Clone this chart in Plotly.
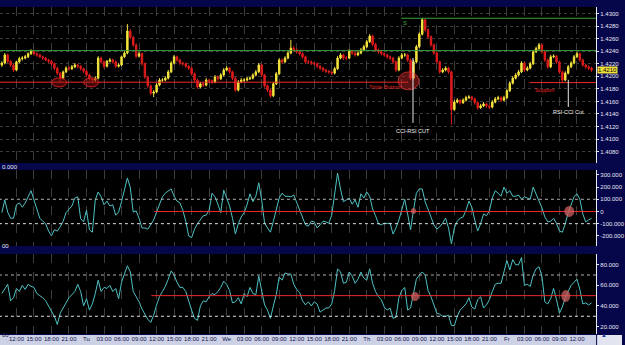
import pandas as pd
import plotly.graph_objects as go

# ---------------- data ----------------
BAR_START = "2010-03-01 09:30"   # Monday
BAR_FREQ = "30min"

OPEN = [1.4218,1.4221,1.4234,1.4224,1.4218,1.4210,1.4223,1.4228,1.4229,1.4231,
        1.4236,1.4240,1.4236,1.4234,1.4231,1.4229,1.4226,1.4224,1.4220,1.4213,
        1.4205,1.4197,1.4207,1.4213,1.4212,1.4215,1.4218,1.4216,1.4212,1.4208,
        1.4202,1.4196,1.4194,1.4197,1.4229,1.4223,1.4216,1.4224,1.4226,1.4223,
        1.4216,1.4218,1.4231,1.4237,1.4272,1.4262,1.4250,1.4232,1.4236,1.4220,
        1.4199,1.4185,1.4173,1.4175,1.4186,1.4194,1.4194,1.4197,1.4207,1.4221,
        1.4231,1.4226,1.4221,1.4220,1.4216,1.4213,1.4204,1.4194,1.4183,1.4188,
        1.4186,1.4194,1.4193,1.4191,1.4199,1.4196,1.4202,1.4210,1.4213,1.4207,
        1.4197,1.4178,1.4191,1.4194,1.4194,1.4196,1.4197,1.4202,1.4207,1.4218,
        1.4202,1.4185,1.4178,1.4169,1.4188,1.4204,1.4226,1.4223,1.4229,1.4237,
        1.4245,1.4242,1.4239,1.4236,1.4231,1.4223,1.4223,1.4221,1.4220,1.4216,
        1.4213,1.4210,1.4208,1.4207,1.4205,1.4212,1.4229,1.4234,1.4229,1.4229,
        1.4240,1.4237,1.4234,1.4237,1.4242,1.4247,1.4255,1.4264,1.4251,1.4242,
        1.4239,1.4236,1.4234,1.4231,1.4229,1.4223,1.4210,1.4229,1.4234,1.4234,
        1.4226,1.4197,1.4223,1.4247,1.4267,1.4290,1.4274,1.4263,1.4250,1.4237,
        1.4223,1.4207,1.4210,1.4213,1.4207,1.4147,1.4159,1.4162,1.4158,1.4162,
        1.4166,1.4167,1.4164,1.4158,1.4150,1.4153,1.4156,1.4153,1.4151,1.4159,
        1.4164,1.4166,1.4162,1.4166,1.4177,1.4189,1.4197,1.4202,1.4207,1.4221,
        1.4210,1.4213,1.4220,1.4239,1.4244,1.4250,1.4239,1.4226,1.4215,1.4231,
        1.4232,1.4223,1.4207,1.4194,1.4205,1.4215,1.4221,1.4231,1.4236,1.4226,
        1.4218,1.4215,1.4213]

HIGH = [1.4224,1.4237,1.4236,1.4226,1.4220,1.4225,1.4231,1.4232,1.4234,1.4238,
        1.4243,1.4242,1.4238,1.4236,1.4233,1.4231,1.4228,1.4226,1.4222,1.4215,
        1.4207,1.4209,1.4216,1.4216,1.4218,1.4221,1.4220,1.4218,1.4214,1.4210,
        1.4204,1.4198,1.4200,1.4232,1.4231,1.4225,1.4226,1.4229,1.4228,1.4225,
        1.4221,1.4233,1.4240,1.4283,1.4275,1.4264,1.4252,1.4239,1.4238,1.4222,
        1.4201,1.4187,1.4178,1.4189,1.4197,1.4197,1.4200,1.4210,1.4224,1.4234,
        1.4233,1.4228,1.4223,1.4222,1.4218,1.4215,1.4206,1.4196,1.4191,1.4190,
        1.4197,1.4196,1.4195,1.4202,1.4201,1.4205,1.4213,1.4216,1.4215,1.4209,
        1.4199,1.4194,1.4197,1.4197,1.4199,1.4200,1.4205,1.4210,1.4221,1.4220,
        1.4204,1.4187,1.4180,1.4191,1.4207,1.4229,1.4228,1.4232,1.4240,1.4258,
        1.4248,1.4244,1.4241,1.4238,1.4233,1.4226,1.4225,1.4223,1.4222,1.4218,
        1.4215,1.4212,1.4210,1.4209,1.4215,1.4232,1.4237,1.4236,1.4232,1.4243,
        1.4242,1.4239,1.4240,1.4245,1.4250,1.4258,1.4267,1.4266,1.4253,1.4244,
        1.4241,1.4238,1.4236,1.4233,1.4231,1.4225,1.4232,1.4237,1.4237,1.4236,
        1.4228,1.4226,1.4250,1.4270,1.4293,1.4292,1.4276,1.4265,1.4252,1.4239,
        1.4225,1.4213,1.4216,1.4215,1.4209,1.4162,1.4165,1.4164,1.4165,1.4169,
        1.4170,1.4169,1.4166,1.4160,1.4156,1.4159,1.4158,1.4155,1.4162,1.4167,
        1.4169,1.4168,1.4169,1.4180,1.4192,1.4200,1.4205,1.4210,1.4224,1.4223,
        1.4216,1.4223,1.4242,1.4247,1.4253,1.4252,1.4241,1.4228,1.4234,1.4235,
        1.4234,1.4225,1.4209,1.4208,1.4218,1.4224,1.4234,1.4239,1.4238,1.4228,
        1.4220,1.4217,1.4215]

LOW = [1.4215,1.4219,1.4221,1.4215,1.4207,1.4208,1.4221,1.4225,1.4227,1.4229,
       1.4234,1.4233,1.4231,1.4229,1.4226,1.4224,1.4221,1.4217,1.4210,1.4202,
       1.4191,1.4195,1.4205,1.4209,1.4210,1.4213,1.4213,1.4209,1.4205,1.4199,
       1.4193,1.4191,1.4192,1.4195,1.4220,1.4213,1.4214,1.4222,1.4220,1.4213,
       1.4214,1.4216,1.4229,1.4235,1.4259,1.4247,1.4229,1.4230,1.4217,1.4196,
       1.4182,1.4170,1.4167,1.4173,1.4184,1.4191,1.4192,1.4195,1.4205,1.4219,
       1.4223,1.4218,1.4217,1.4213,1.4210,1.4201,1.4191,1.4180,1.4181,1.4183,
       1.4184,1.4190,1.4188,1.4189,1.4193,1.4194,1.4200,1.4208,1.4204,1.4194,
       1.4175,1.4176,1.4189,1.4191,1.4192,1.4194,1.4195,1.4200,1.4205,1.4199,
       1.4182,1.4175,1.4166,1.4167,1.4186,1.4202,1.4220,1.4221,1.4227,1.4235,
       1.4239,1.4236,1.4233,1.4228,1.4220,1.4220,1.4218,1.4217,1.4213,1.4210,
       1.4207,1.4205,1.4204,1.4202,1.4203,1.4210,1.4227,1.4226,1.4226,1.4227,
       1.4234,1.4231,1.4232,1.4235,1.4240,1.4245,1.4253,1.4248,1.4239,1.4236,
       1.4233,1.4231,1.4228,1.4226,1.4220,1.4207,1.4208,1.4227,1.4231,1.4223,
       1.4194,1.4195,1.4221,1.4245,1.4265,1.4271,1.4260,1.4247,1.4234,1.4220,
       1.4204,1.4205,1.4208,1.4204,1.4123,1.4145,1.4157,1.4155,1.4156,1.4160,
       1.4164,1.4161,1.4155,1.4147,1.4148,1.4151,1.4150,1.4148,1.4149,1.4157,
       1.4162,1.4159,1.4160,1.4164,1.4175,1.4187,1.4195,1.4200,1.4205,1.4207,
       1.4208,1.4211,1.4218,1.4237,1.4242,1.4236,1.4223,1.4212,1.4213,1.4229,
       1.4220,1.4204,1.4191,1.4192,1.4203,1.4213,1.4219,1.4229,1.4223,1.4215,
       1.4212,1.4210,1.4207]

CLOSE = [1.4221,1.4234,1.4224,1.4218,1.4210,1.4223,1.4228,1.4229,1.4231,1.4236,
         1.4240,1.4236,1.4234,1.4231,1.4229,1.4226,1.4224,1.4220,1.4213,1.4205,
         1.4197,1.4207,1.4213,1.4212,1.4215,1.4218,1.4216,1.4212,1.4208,1.4202,
         1.4196,1.4194,1.4197,1.4229,1.4223,1.4216,1.4224,1.4226,1.4223,1.4216,
         1.4218,1.4231,1.4237,1.4272,1.4262,1.4250,1.4232,1.4236,1.4220,1.4199,
         1.4185,1.4173,1.4175,1.4186,1.4194,1.4194,1.4197,1.4207,1.4221,1.4231,
         1.4226,1.4221,1.4220,1.4216,1.4213,1.4204,1.4194,1.4183,1.4188,1.4186,
         1.4194,1.4193,1.4191,1.4199,1.4196,1.4202,1.4210,1.4213,1.4207,1.4197,
         1.4178,1.4191,1.4194,1.4194,1.4196,1.4197,1.4202,1.4207,1.4218,1.4202,
         1.4185,1.4178,1.4169,1.4188,1.4204,1.4226,1.4223,1.4229,1.4237,1.4245,
         1.4242,1.4239,1.4236,1.4231,1.4223,1.4223,1.4221,1.4220,1.4216,1.4213,
         1.4210,1.4208,1.4207,1.4205,1.4212,1.4229,1.4234,1.4229,1.4229,1.4240,
         1.4237,1.4234,1.4237,1.4242,1.4247,1.4255,1.4264,1.4251,1.4242,1.4239,
         1.4236,1.4234,1.4231,1.4229,1.4223,1.4210,1.4229,1.4234,1.4234,1.4226,
         1.4197,1.4223,1.4247,1.4267,1.4290,1.4274,1.4263,1.4250,1.4237,1.4223,
         1.4207,1.4210,1.4213,1.4207,1.4147,1.4159,1.4162,1.4158,1.4162,1.4166,
         1.4167,1.4164,1.4158,1.4150,1.4153,1.4156,1.4153,1.4151,1.4159,1.4164,
         1.4166,1.4162,1.4166,1.4177,1.4189,1.4197,1.4202,1.4207,1.4221,1.4210,
         1.4213,1.4220,1.4239,1.4244,1.4250,1.4239,1.4226,1.4215,1.4231,1.4232,
         1.4223,1.4207,1.4194,1.4205,1.4215,1.4221,1.4231,1.4236,1.4226,1.4218,
         1.4215,1.4213,1.4210]

CCI = [-10,95,-5,-55,-55,55,70,35,70,125,
       170,95,10,-55,-80,-100,-160,-200,-150,-160,
       -125,-80,-10,20,45,110,120,-60,-85,10,
       -150,-170,95,160,120,55,85,45,55,-30,
       -5,80,170,275,195,-5,5,-55,-135,-135,
       -145,-110,-70,-5,55,120,150,170,185,125,
       85,70,10,-80,-200,-215,-145,-100,-70,-35,
       -30,10,150,120,60,-10,175,100,45,-55,
       -185,-100,-45,-10,55,145,80,125,235,95,
       -95,-135,-170,-80,10,110,150,125,125,120,
       135,70,5,-60,-110,-120,-80,-85,-135,-110,
       -80,-85,-95,-30,135,315,185,80,95,110,
       60,95,35,145,110,160,125,20,-35,-100,
       -110,-95,-100,-95,-185,-135,-70,10,100,-20,
       -150,10,150,185,185,80,10,-45,-110,-145,
       -125,-95,-55,-135,-265,-135,-80,-55,-45,10,
       85,35,-70,-160,-100,-20,-35,5,110,170,
       150,125,200,150,170,125,125,135,100,120,
       110,100,200,145,85,30,-45,-85,-80,-55,
       -100,-160,-170,-100,-10,55,120,145,100,-20,
       -85,-70,-55]

RSI = [52,56,61,45,48,57,54,60,56,61,
       59,58,52,50,48,45,40,36,30,22,
       33,38,43,48,51,54,61,54,40,47,
       36,42,52,65,54,58,57,60,54,57,
       47,63,71,79,73,54,49,44,37,32,
       27,24,31,41,49,54,59,66,74,70,
       63,58,58,54,44,36,28,26,40,45,
       44,49,52,51,54,58,64,61,55,43,
       44,48,42,52,49,58,52,51,69,55,
       41,36,28,40,51,68,65,72,71,71,
       61,56,53,45,41,44,40,44,42,34,
       36,38,38,42,55,76,73,62,63,73,
       69,62,66,73,67,65,76,62,54,49,
       46,39,36,38,28,29,48,55,58,36,
       38,54,66,70,73,70,55,49,40,33,
       32,30,30,31,21,21,30,36,39,42,
       48,39,37,46,49,38,41,46,54,61,
       62,62,73,84,75,85,80,80,87,60,
       61,59,70,76,78,69,44,42,47,57,
       46,33,39,48,54,60,63,66,56,42,
       43,41,43]

TICK_START = "2010-03-01 12:00"
TICK_LABELS = ["12:00", "15:00", "18:00", "21:00",
               "Tu", "03:00", "06:00", "09:00", "12:00", "15:00", "18:00", "21:00",
               "We", "03:00", "06:00", "09:00", "12:00", "15:00", "18:00", "21:00",
               "Th", "03:00", "06:00", "09:00", "12:00", "15:00", "18:00", "21:00",
               "Fr", "03:00", "06:00", "09:00", "12:00"]
PRICE_TICKS = [1.4080, 1.4100, 1.4120, 1.4140, 1.4160, 1.4180, 1.4200,
               1.4220, 1.4240, 1.4260, 1.4280, 1.4300]
CCI_TICKS = [300, 200, 100, 0, -100, -200]
CCI_TICK_TEXT = ["300.000", "200.000", "100.000", "0", "-100.000", "-200.000"]
RSI_TICKS = [80, 60, 40, 20]
RSI_TICK_TEXT = ["80.000", "60.000", "40.000", "20.000"]

# levels drawn on the chart
RESIST_TOP = 1.42924
RESIST_MID = 1.42409
TRIPLE_BOTTOM = 1.41906
SUPPORT = 1.41900

# ---------------- style ----------------
NAVY = "#06064a"
UP = "#f5e43c"
DN = "#e01c1c"
TEAL = "#4ec2c4"
GRID = "#3c3c3c"
RED_LINE = "#ee2a2a"
FONT = "Liberation Sans, Arial, sans-serif"
W, H = 625, 345
XR = ["2010-03-01 09:11", "2010-03-05 15:17"]
XDOM = [0, 599 / W]

times = pd.date_range(BAR_START, periods=len(CLOSE), freq=BAR_FREQ)
tick_times = pd.date_range(TICK_START, periods=len(TICK_LABELS), freq="3h")

fig = go.Figure()
fig.add_trace(go.Candlestick(
    x=times, open=OPEN, high=HIGH, low=LOW, close=CLOSE,
    xaxis="x3", yaxis="y",
    increasing=dict(line=dict(color=UP, width=1), fillcolor=UP),
    decreasing=dict(line=dict(color=DN, width=1), fillcolor=DN),
    whiskerwidth=0, showlegend=False, hoverinfo="skip"))
fig.add_trace(go.Scatter(x=times, y=CCI, xaxis="x2", yaxis="y2", mode="lines",
                         line=dict(color=TEAL, width=1), showlegend=False, hoverinfo="skip"))
fig.add_trace(go.Scatter(x=times, y=RSI, xaxis="x", yaxis="y3", mode="lines",
                         line=dict(color=TEAL, width=1), showlegend=False, hoverinfo="skip"))

xcommon = dict(type="date", range=XR, domain=XDOM, showgrid=True, gridcolor=GRID,
               griddash="dash", gridwidth=1, tickvals=tick_times, ticktext=TICK_LABELS,
               zeroline=False, showline=False, ticks="", fixedrange=True, tickangle=0,
               rangeslider=dict(visible=False))
ycommon = dict(side="right", showline=True, linecolor="#e8e8f0", linewidth=1,
               ticks="outside", ticklen=2, tickcolor="#e8e8f0",
               tickfont=dict(size=6, color="#e8e8f4", family=FONT),
               zeroline=False, fixedrange=True)

fig.update_layout(
    width=W, height=H, margin=dict(l=0, r=0, t=0, b=0),
    paper_bgcolor=NAVY, plot_bgcolor="#000000", font=dict(family=FONT),
    xaxis=dict(xcommon, anchor="y3", showticklabels=True,
               tickfont=dict(size=6, color="#10104a", family=FONT)),
    xaxis2=dict(xcommon, anchor="y2", matches="x", showticklabels=False),
    xaxis3=dict(xcommon, anchor="y", matches="x", showticklabels=False),
    yaxis=dict(ycommon, domain=[1 - 163 / H, 1 - 7 / H], anchor="x3",
               range=[1.40620, 1.43103], tickvals=PRICE_TICKS,
               ticktext=[f"{v:.4f}" for v in PRICE_TICKS],
               showgrid=True, gridcolor=GRID, griddash="dot"),
    yaxis2=dict(ycommon, domain=[1 - 246 / H, 1 - 170 / H], anchor="x2",
                range=[-283, 340], tickvals=CCI_TICKS, ticktext=CCI_TICK_TEXT,
                showgrid=False),
    yaxis3=dict(ycommon, domain=[1 - 334 / H, 1 - 254 / H], anchor="x",
                range=[12.8, 90.4], tickvals=RSI_TICKS, ticktext=RSI_TICK_TEXT,
                showgrid=False),
)

shapes = []
# price panel levels
shapes.append(dict(type="line", xref="x3", yref="y", x0="2010-03-04 05:53", x1="2010-03-05 16:00",
                   y0=RESIST_TOP, y1=RESIST_TOP, line=dict(color="#3aa03a", width=1)))
shapes.append(dict(type="line", xref="x3", yref="y", x0="2010-03-01 09:00", x1="2010-03-05 16:00",
                   y0=RESIST_MID, y1=RESIST_MID, line=dict(color="#3aa03a", width=1)))
shapes.append(dict(type="line", xref="x3", yref="y", x0="2010-03-01 09:00", x1="2010-03-04 07:04",
                   y0=TRIPLE_BOTTOM, y1=TRIPLE_BOTTOM, line=dict(color=RED_LINE, width=1)))
shapes.append(dict(type="line", xref="x3", yref="y", x0="2010-03-05 03:52", x1="2010-03-05 16:00",
                   y0=SUPPORT, y1=SUPPORT, line=dict(color=RED_LINE, width=1)))
# bottoms marked with ellipses
for a, b in [("2010-03-01 18:03", "2010-03-01 20:37"), ("2010-03-01 23:30", "2010-03-02 02:04")]:
    shapes.append(dict(type="circle", xref="x3", yref="y", x0=a, x1=b, y0=1.41831, y1=1.41974,
                       line=dict(color="#d02020", width=1), fillcolor="rgba(150,20,20,0.45)"))
shapes.append(dict(type="circle", xref="x3", yref="y", x0="2010-03-04 05:22", x1="2010-03-04 08:57",
                   y0=1.41784, y1=1.42070, line=dict(color="rgba(220,50,50,0.8)", width=1),
                   fillcolor="rgba(200,40,40,0.45)"))
# white markers
shapes.append(dict(type="line", xref="x3", yref="y", x0="2010-03-04 07:55", x1="2010-03-04 07:55",
                   y0=1.41259, y1=1.42292, line=dict(color="#e8e8e8", width=1)))
shapes.append(dict(type="line", xref="x3", yref="y", x0="2010-03-05 10:31", x1="2010-03-05 10:31",
                   y0=1.41513, y1=1.41943, line=dict(color="#e8e8e8", width=1)))
# CCI panel
for lvl, col in [(100, "#b0b0b0"), (-100, "#e0e0e0")]:
    shapes.append(dict(type="line", xref="x2", yref="y2", x0="2010-03-01 09:00", x1="2010-03-05 16:00",
                       y0=lvl, y1=lvl, line=dict(color=col, width=1, dash="dot")))
shapes.append(dict(type="line", xref="x2", yref="y2", x0="2010-03-02 11:37", x1="2010-03-05 16:00",
                   y0=0, y1=0, line=dict(color=RED_LINE, width=1)))
# RSI panel
for lvl, col in [(70, "#b0b0b0"), (30, "#e0e0e0")]:
    shapes.append(dict(type="line", xref="x", yref="y3", x0="2010-03-01 09:00", x1="2010-03-05 16:00",
                       y0=lvl, y1=lvl, line=dict(color=col, width=1, dash="dot")))
shapes.append(dict(type="line", xref="x", yref="y3", x0="2010-03-02 11:06", x1="2010-03-05 16:00",
                   y0=50, y1=50, line=dict(color=RED_LINE, width=1)))
# crossing circles
for xr_, yr_, a, b, y0, y1 in [
        ("x2", "y2", "2010-03-04 07:35", "2010-03-04 08:26", -20, 29),
        ("x2", "y2", "2010-03-05 09:50", "2010-03-05 11:32", -45, 45),
        ("x", "y3", "2010-03-04 07:35", "2010-03-04 08:57", 44.8, 53.5),
        ("x", "y3", "2010-03-05 09:19", "2010-03-05 10:51", 43.8, 55.5)]:
    shapes.append(dict(type="circle", xref=xr_, yref=yr_, x0=a, x1=b, y0=y0, y1=y1,
                       line=dict(width=0), fillcolor="rgba(205,95,95,0.75)"))
# time strip and corner box
shapes.append(dict(type="rect", xref="paper", yref="paper", x0=0, x1=599 / W, y0=0, y1=10 / H,
                   line=dict(width=0), fillcolor="#cdd1e6", layer="below"))
shapes.append(dict(type="rect", xref="paper", yref="paper", x0=600 / W, x1=1, y0=0, y1=10 / H,
                   line=dict(width=0), fillcolor="#e2e4f0", layer="below"))
fig.update_layout(shapes=shapes)

ann = []
def txt(text, x, y, xref, yref, color, size=6, **kw):
    ann.append(dict(text=text, x=x, y=y, xref=xref, yref=yref, showarrow=False,
                    font=dict(color=color, size=size, family=FONT), **kw))

txt("S", "2010-03-04 06:34", 1.42849, "x3", "y", "#3aa03a", 6)
txt("Triple Bottom", "2010-03-04 03:09", 1.41831, "x3", "y", "#e02828", 5.5)
txt("Support", "2010-03-05 06:35", 1.41784, "x3", "y", "#e02828", 5.5)
txt("CCI-RSI CUT", "2010-03-04 07:55", 1.41132, "x3", "y", "#f0f0f0", 5.5)
txt("RSI-CCI Cut", "2010-03-05 10:31", 1.41434, "x3", "y", "#f0f0f0", 5.5)
txt(f"{CLOSE[-1]:.4f}", 600 / W, CLOSE[-1], "paper", "y", "#000000", 6,
    xanchor="left", bgcolor="#f2e23a", borderpad=0)
txt("0.000", 0, 1 - 166.5 / H, "paper", "paper", "#e8e8f4", 6, xanchor="left")
txt("00", 0, 1 - 250.5 / H, "paper", "paper", "#e8e8f4", 6, xanchor="left")
txt("00", 0, 1 - 340 / H, "paper", "paper", "#10104a", 6, xanchor="left")
txt("▲", 612 / W, 1 - 340 / H, "paper", "paper", "#1a3a9a", 6)
fig.update_layout(annotations=ann)

fig.write_html("out.html")
